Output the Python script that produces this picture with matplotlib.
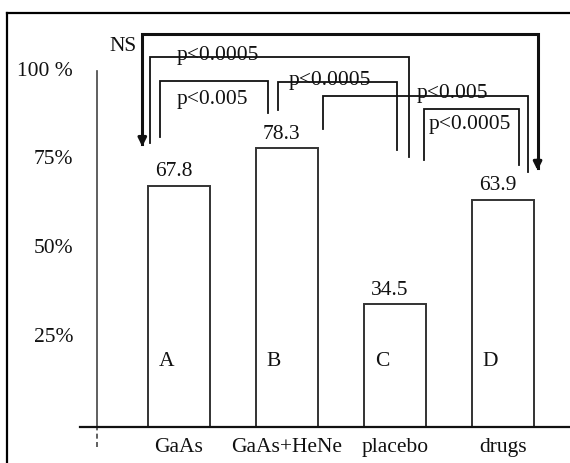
import matplotlib.pyplot as plt

# data
groups = ["GaAs", "GaAs+HeNe", "placebo", "drugs"]
letters = ["A", "B", "C", "D"]
values = [67.8, 78.3, 34.5, 63.9]
ytick_vals = [25, 50, 75, 100]
ytick_labels = ["25%", "50%", "75%", "100 %"]

# comparisons: (group i, group j, label)
comparisons = [
    (0, 3, "NS"),
    (0, 2, "p<0.0005"),
    (0, 1, "p<0.005"),
    (1, 2, "p<0.0005"),
    (1, 3, "p<0.005"),
    (2, 3, "p<0.0005"),
]

# bracket layout: x offsets from the group index, top level, end levels,
# label position (x, y) and alignment
bracket_layout = [
    dict(dx0=-0.34, dx1=0.32, top=110.4, end0=79.5, end1=72.8, lx=-0.39, ly=106.8, va="center", ha="right", lw=2.2, arrow=True),
    dict(dx0=-0.27, dx1=0.13, top=103.9, end0=79.8, end1=75.8, lx=0.36, ly=103.2, va="baseline", ha="center", lw=1.3, arrow=False),
    dict(dx0=-0.18, dx1=-0.18, top=97.2, end0=81.5, end1=88.2, lx=0.31, ly=91.9, va="center", ha="center", lw=1.3, arrow=False),
    dict(dx0=-0.08, dx1=0.02, top=96.9, end0=89.0, end1=77.8, lx=1.40, ly=96.2, va="baseline", ha="center", lw=1.3, arrow=False),
    dict(dx0=0.33, dx1=0.23, top=93.0, end0=83.7, end1=71.6, lx=2.53, ly=92.3, va="baseline", ha="center", lw=1.3, arrow=False),
    dict(dx0=0.27, dx1=0.15, top=89.3, end0=75.0, end1=73.6, lx=2.69, ly=85.1, va="center", ha="center", lw=1.3, arrow=False),
]

plt.rcParams["font.family"] = ["Liberation Serif", "DejaVu Serif"]
fs = 15.5
ink = "#111111"

fig = plt.figure(figsize=(5.7, 4.63), dpi=100)
ax = fig.add_axes([0.0123, -0.0151, 0.9965, 0.9870])
ax.set_xlim(-1.5926, 3.6667)
ax.set_ylim(-12.08, 116.29)

for side in ["right", "bottom"]:
    ax.spines[side].set_visible(False)
for side in ["left", "top"]:
    ax.spines[side].set_linewidth(1.6)
    ax.spines[side].set_color("black")
ax.set_xticks([])
ax.set_yticks([])

x = list(range(len(groups)))
ax.bar(x, values, width=0.57, facecolor="white", edgecolor="#333333", linewidth=1.4, zorder=2)

# axes drawn inside the frame
ax.plot([-0.76, -0.76], [0, 100], color="#444444", lw=1.2)
ax.plot([-0.76, -0.76], [-5.6, 0], color="#444444", lw=1.2, ls=(0, (3, 2)))
ax.plot([-0.92, 3.7], [0, 0], color=ink, lw=1.6, zorder=3)

for v, lab in zip(ytick_vals, ytick_labels):
    ax.text(-0.98, v, lab, ha="right", va="center", fontsize=fs, color=ink)

for i, g in enumerate(groups):
    ax.text(i, -7.0, g, ha="center", va="baseline", fontsize=fs, color=ink)
    ax.text(i - 0.12, 18.5, letters[i], ha="center", va="center", fontsize=fs, color=ink)
    ax.annotate(f"{values[i]:.1f}", (i - 0.05, values[i]), xytext=(0, 3),
                textcoords="offset points", ha="center", va="bottom", fontsize=fs, color=ink)

for (i, j, lab), b in zip(comparisons, bracket_layout):
    x0, x1 = i + b["dx0"], j + b["dx1"]
    ax.plot([x0, x0, x1, x1], [b["end0"], b["top"], b["top"], b["end1"]],
            color=ink, lw=b["lw"], solid_joinstyle="miter")
    if b["arrow"]:
        for xa, ya in [(x0, b["end0"]), (x1, b["end1"])]:
            ax.annotate("", xy=(xa, ya - 1.5), xytext=(xa, ya + 3),
                        arrowprops=dict(arrowstyle="-|>", color=ink, lw=b["lw"], mutation_scale=12))
    ax.text(b["lx"], b["ly"], lab, ha=b["ha"], va=b["va"], fontsize=fs, color=ink)

fig.savefig("out.png", dpi=100)
